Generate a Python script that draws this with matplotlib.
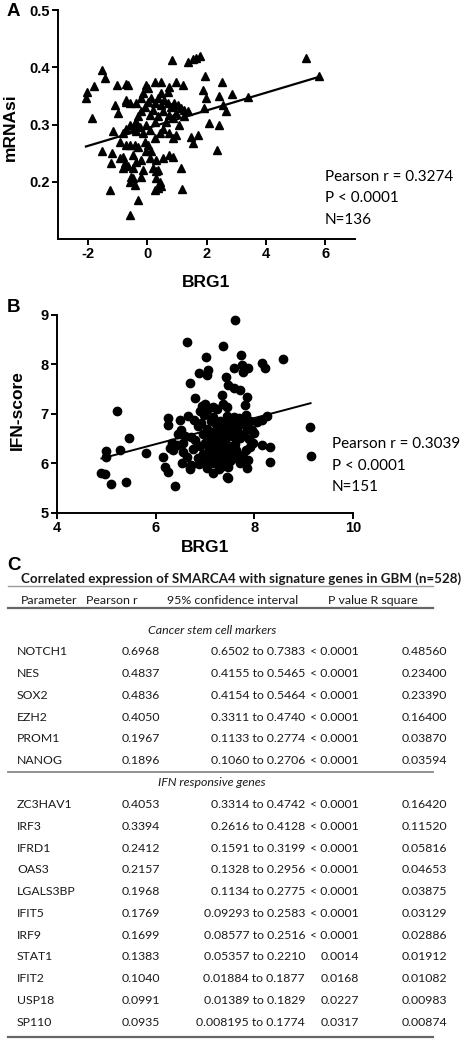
import matplotlib.pyplot as plt
import numpy as np

# ---- panel A: BRG1 vs mRNAsi ----
a_pts = [
    (-2.04, 0.357), (-2.06, 0.346), (-1.78, 0.368), (-1.52, 0.395), (-1.43, 0.381),
    (-1.84, 0.311), (-1.52, 0.253), (-1.17, 0.250), (-1.20, 0.232), (-1.24, 0.186),
    (-1.15, 0.288), (-1.03, 0.369), (-0.72, 0.370), (-0.64, 0.369), (-1.09, 0.334),
    (-0.98, 0.320), (-0.70, 0.340), (-0.59, 0.337), (-0.31, 0.168), (-0.59, 0.142),
    (-0.03, 0.369), (0.25, 0.374), (0.47, 0.374), (0.75, 0.366), (0.98, 0.375),
    (1.20, 0.369), (0.84, 0.413), (1.37, 0.410), (1.54, 0.414), (1.65, 0.417),
    (1.79, 0.420), (1.14, 0.224), (1.18, 0.188), (0.25, 0.186), (0.36, 0.189),
    (0.47, 0.192), (1.96, 0.384), (2.52, 0.375), (2.87, 0.353), (1.87, 0.360),
    (1.98, 0.346), (1.92, 0.328), (2.43, 0.349), (2.54, 0.334), (2.65, 0.323),
    (2.09, 0.302), (2.43, 0.299), (2.37, 0.256), (1.48, 0.279), (1.70, 0.282),
    (1.53, 0.267), (3.41, 0.348), (5.35, 0.416), (5.78, 0.384),
    (-0.587, 0.299), (-0.42, 0.302), (-0.308, 0.314), (-0.196, 0.323), (-0.085, 0.331),
    (0.027, 0.340), (0.139, 0.346), (0.25, 0.337), (0.362, 0.346), (0.474, 0.334),
    (0.585, 0.343), (0.697, 0.337), (0.809, 0.331), (0.92, 0.337), (1.032, 0.334),
    (1.144, 0.328), (1.256, 0.325), (1.367, 0.323), (0.753, 0.317), (0.865, 0.311),
    (0.976, 0.320), (0.641, 0.305), (0.53, 0.293), (0.753, 0.285), (0.865, 0.276),
    (0.418, 0.285), (0.25, 0.276), (0.083, 0.291), (-0.029, 0.299), (-0.141, 0.285),
    (-0.252, 0.296), (-0.364, 0.305), (-0.476, 0.293), (-0.699, 0.293), (-0.811, 0.285),
    (-0.923, 0.270), (-0.699, 0.264), (-0.587, 0.264), (-0.42, 0.264), (-0.308, 0.261),
    (0.027, 0.264), (0.139, 0.253), (0.083, 0.241), (0.306, 0.238), (0.53, 0.241),
    (0.753, 0.247), (0.865, 0.244), (-0.811, 0.244), (-0.923, 0.241), (-0.755, 0.232),
    (-0.643, 0.227), (-0.476, 0.224), (-0.364, 0.235), (-0.196, 0.238), (-0.141, 0.221),
    (-0.196, 0.209), (-0.531, 0.209), (-0.587, 0.200), (-0.476, 0.206), (0.195, 0.224),
    (0.362, 0.221), (0.306, 0.218), (-0.029, 0.253), (-0.085, 0.270), (0.25, 0.305),
    (0.362, 0.314), (0.083, 0.317), (0.195, 0.325), (0.53, 0.323), (-0.196, 0.346),
    (-0.141, 0.355), (0.027, 0.363), (0.474, 0.355), (0.697, 0.357), (-0.364, 0.337),
    (-0.699, 0.343), (-0.364, 0.288), (0.976, 0.282), (1.088, 0.299), (1.256, 0.314),
    (-0.811, 0.224), (0.418, 0.200), (0.306, 0.206), (-0.42, 0.194), (-0.476, 0.247),
]
a_fit = (0.0155, 0.2935)  # slope, intercept of drawn regression line
a_stats = ['Pearson r = 0.3274', 'P < 0.0001', 'N=136']

# ---- panel B: BRG1 vs IFN-score ----
b_pts = [
    (7.60, 8.90), (6.64, 8.46), (7.37, 8.37), (7.02, 8.16), (7.72, 8.19),
    (6.87, 7.83), (7.06, 7.89), (7.04, 7.79), (7.58, 7.92), (7.76, 7.99),
    (7.78, 7.85), (7.88, 7.92), (7.42, 7.75), (6.70, 7.62), (7.47, 7.59),
    (7.58, 7.52), (7.71, 7.48), (7.85, 7.35), (7.82, 7.18), (6.80, 7.32),
    (7.00, 7.21), (7.04, 7.08), (6.93, 7.16), (7.34, 7.38), (7.37, 7.21),
    (7.24, 7.11), (7.44, 7.15), (5.22, 7.07), (6.26, 6.91), (6.24, 6.78),
    (6.49, 6.88), (6.66, 6.95), (5.45, 6.51), (5.00, 6.25), (5.28, 6.27),
    (4.99, 6.14), (5.81, 6.22), (4.90, 5.80), (4.97, 5.79), (5.09, 5.58),
    (5.39, 5.63), (6.39, 5.55), (6.15, 6.14), (6.19, 5.93), (6.24, 5.83),
    (6.29, 6.31), (6.43, 6.37), (6.33, 6.41), (6.53, 6.00), (6.70, 5.93),
    (6.63, 6.14), (6.56, 6.24), (7.17, 5.80), (7.44, 5.73), (7.47, 5.93),
    (7.31, 6.00), (7.41, 6.10), (7.85, 5.90), (7.88, 6.07), (7.78, 6.14),
    (7.98, 6.41), (7.95, 6.68), (8.15, 8.04), (8.22, 7.92), (8.59, 8.12),
    (7.83, 6.98), (7.17, 7.15), (8.25, 6.96), (8.15, 6.88), (8.05, 6.84),
    (9.13, 6.74), (9.14, 6.15), (8.32, 6.34), (8.31, 6.04), (8.15, 6.37),
    (7.91, 6.34), (7.83, 6.27), (7.70, 6.00), (7.46, 5.70), (7.37, 5.94),
    (7.58, 6.11), (7.31, 6.07), (6.52, 6.68), (6.72, 6.54), (6.56, 6.41),
    (6.36, 6.27), (6.72, 5.97), (6.69, 5.88), (6.90, 7.07), (6.97, 6.97),
    (7.17, 6.93), (7.31, 6.86), (7.44, 6.89), (7.58, 6.93),
    (6.85, 6.75), (6.95, 6.60), (7.05, 6.70), (7.10, 6.55), (7.20, 6.65),
    (7.25, 6.50), (7.30, 6.75), (7.35, 6.60), (7.40, 6.45), (7.45, 6.62),
    (7.50, 6.78), (7.55, 6.55), (7.60, 6.40), (7.65, 6.68), (7.70, 6.52),
    (7.75, 6.80), (7.80, 6.60), (7.90, 6.50), (8.00, 6.62), (6.80, 6.48),
    (6.90, 6.35), (7.00, 6.42), (7.08, 6.30), (7.15, 6.40), (7.22, 6.25),
    (7.28, 6.38), (7.36, 6.30), (7.48, 6.35), (7.55, 6.22), (7.62, 6.28),
    (7.70, 6.18), (6.85, 6.12), (6.95, 6.20), (7.02, 6.05), (7.10, 6.15),
    (7.18, 6.02), (7.25, 6.12), (7.38, 6.20), (7.50, 6.05), (6.78, 6.88),
    (6.92, 6.82), (7.12, 6.85), (7.22, 6.80), (7.40, 6.75), (7.62, 6.82),
    (7.68, 6.92), (6.75, 6.30), (6.60, 6.55), (6.45, 6.60), (7.05, 5.90),
    (7.28, 5.88), (6.88, 5.98), (7.58, 6.65), (7.85, 6.72), (7.92, 6.85),
    (7.45, 6.95),
]
b_fit = (0.2635, 4.81)
b_stats = ['Pearson r = 0.3039', 'P < 0.0001', 'N=151']

# ---- panel C: table ----
tab_title = 'Correlated expression of SMARCA4 with signature genes in GBM (n=528)'
tab_header = ['Parameter', 'Pearson r', '95% confidence interval', 'P value R square']
stem_label = 'Cancer stem cell markers'
stem_genes = ['NOTCH1', 'NES', 'SOX2', 'EZH2', 'PROM1', 'NANOG']
stem_r = ['0.6968', '0.4837', '0.4836', '0.4050', '0.1967', '0.1896']
stem_ci = ['0.6502 to 0.7383', '0.4155 to 0.5465', '0.4154 to 0.5464',
           '0.3311 to 0.4740', '0.1133 to 0.2774', '0.1060 to 0.2706']
stem_p = ['< 0.0001'] * 6
stem_r2 = ['0.48560', '0.23400', '0.23390', '0.16400', '0.03870', '0.03594']
ifn_label = 'IFN responsive genes'
ifn_genes = ['ZC3HAV1', 'IRF3', 'IFRD1', 'OAS3', 'LGALS3BP', 'IFIT5', 'IRF9',
             'STAT1', 'IFIT2', 'USP18', 'SP110']
ifn_r = ['0.4053', '0.3394', '0.2412', '0.2157', '0.1968', '0.1769', '0.1699',
         '0.1383', '0.1040', '0.0991', '0.0935']
ifn_ci = ['0.3314 to 0.4742', '0.2616 to 0.4128', '0.1591 to 0.3199',
          '0.1328 to 0.2956', '0.1134 to 0.2775', '0.09293 to 0.2583',
          '0.08577 to 0.2516', '0.05357 to 0.2210', '0.01884 to 0.1877',
          '0.01389 to 0.1829', '0.008195 to 0.1774']
ifn_p = ['< 0.0001'] * 7 + ['0.0014', '0.0168', '0.0227', '0.0317']
ifn_r2 = ['0.16420', '0.11520', '0.05816', '0.04653', '0.03875', '0.03129',
          '0.02886', '0.01912', '0.01082', '0.00983', '0.00874']

plt.rcParams['font.family'] = 'Liberation Sans'
plt.rcParams['font.weight'] = 'bold'
plt.rcParams['axes.labelweight'] = 'bold'
plt.rcParams['axes.unicode_minus'] = False

W, H = 467, 1050
fig = plt.figure(figsize=(W / 100, H / 100), dpi=100)
cal = 'Lato'
tc = '#1a1a1a'


def px_axes(left, top, right, bottom):
    return fig.add_axes([left / W, 1 - bottom / H, (right - left) / W, (bottom - top) / H])


def style(ax):
    for s in ['top', 'right']:
        ax.spines[s].set_visible(False)
    for s in ['left', 'bottom']:
        ax.spines[s].set_linewidth(1.4)
    ax.tick_params(direction='out', length=4, width=1.4, labelsize=10.5, pad=2)


# panel A
axA = px_axes(58, 10, 355, 239)
ax_x, ax_y = np.array(a_pts).T
axA.plot(ax_x, ax_y, ls='', marker='^', ms=6.3, color='black', mec='black')
xl = np.array([ax_x.min(), ax_x.max()])
axA.plot(xl, a_fit[0] * xl + a_fit[1], color='black', lw=1.6)
axA.set_xlim(-3, 7)
axA.set_ylim(0.1, 0.5)
axA.set_xticks([-2, 0, 2, 4, 6])
axA.set_yticks([0.2, 0.3, 0.4, 0.5])
axA.set_yticklabels(['0.2', '0.3', '0.4', '0.5'])
style(axA)
axA.set_xlabel('BRG1', fontsize=12.5)
axA.set_ylabel('mRNAsi', fontsize=12.5)
axA.xaxis.set_label_coords(0.5, -0.157)
axA.yaxis.set_label_coords(-0.135, 0.49)
for i, s in enumerate(a_stats):
    fig.text(325 / W, 1 - (177 + 21.5 * i) / H, s, fontsize=11, family=cal,
             weight='normal', va='center')
fig.text(7 / W, 1 - 12 / H, 'A', fontsize=13.5, va='center')

# panel B
axB = px_axes(57, 315, 353, 513)
bx, by = np.array(b_pts).T
axB.plot(bx, by, ls='', marker='o', ms=6, color='black')
xl = np.array([bx.min(), bx.max()])
axB.plot(xl, b_fit[0] * xl + b_fit[1], color='black', lw=1.4)
axB.set_xlim(4, 10)
axB.set_ylim(5, 9)
axB.set_xticks([4, 6, 8, 10])
axB.set_yticks([5, 6, 7, 8, 9])
style(axB)
axB.set_xlabel('BRG1', fontsize=12.5)
axB.set_ylabel('IFN-score', fontsize=12.5)
axB.xaxis.set_label_coords(0.5, -0.136)
axB.yaxis.set_label_coords(-0.108, 0.52)
for i, s in enumerate(b_stats):
    fig.text(332 / W, 1 - (444 + 21.5 * i) / H, s, fontsize=11, family=cal,
             weight='normal', va='center')
fig.text(7 / W, 1 - 308 / H, 'B', fontsize=13.5, va='center')

# panel C table, laid out in pixel space
axC = fig.add_axes([0, 0, 1, 1])
axC.set_xlim(0, W)
axC.set_ylim(H, 0)
axC.axis('off')
axC.text(7, 566, 'C', fontsize=13.5, va='center')
axC.text(21, 579, tab_title, fontsize=9.6, family=cal, weight='bold', va='center', color=tc)
axC.plot([8, 433], [586, 586], color='#999999', lw=1.0)
hdr_x = [21, 86, 167, 328]
for x, s in zip(hdr_x, tab_header):
    axC.text(x, 600, s, fontsize=8.9, family=cal, weight='normal', va='center', color=tc)
axC.plot([8, 433], [608, 608], color='#666666', lw=1.6)

row_h = 21.8
y0 = 630
cols = [(17, 'left'), (160, 'right'), (305, 'right'), (359, 'right'), (447, 'right')]


def put_row(y, cells):
    for (x, ha), s in zip(cols, cells):
        axC.text(x, y, s, fontsize=8.8, family=cal, weight='normal', ha=ha,
                 va='center', color=tc)


axC.text(212, y0, stem_label, fontsize=8.9, family=cal, weight='normal', style='italic',
         ha='center', va='center', color=tc)
for i in range(len(stem_genes)):
    put_row(y0 + row_h * (i + 1), [stem_genes[i], stem_r[i], stem_ci[i], stem_p[i], stem_r2[i]])
y_line = y0 + row_h * 6.5
axC.plot([8, 433], [y_line, y_line], color='#888888', lw=1.3)
y1 = y0 + row_h * 7
axC.text(212, y1, ifn_label, fontsize=8.9, family=cal, weight='normal', style='italic',
         ha='center', va='center', color=tc)
for i in range(len(ifn_genes)):
    put_row(y1 + row_h * (i + 1), [ifn_genes[i], ifn_r[i], ifn_ci[i], ifn_p[i], ifn_r2[i]])
y_end = y1 + row_h * 11.65
axC.plot([8, 433], [y_end, y_end], color='#666666', lw=1.6)

fig.savefig('out.png', dpi=100)
